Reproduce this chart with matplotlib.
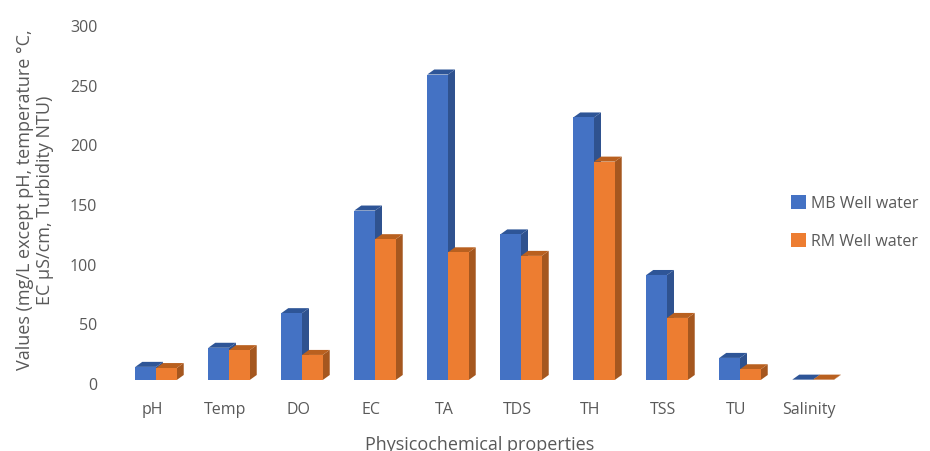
import matplotlib
matplotlib.use("Agg")
import matplotlib.pyplot as plt
from matplotlib.patches import Polygon
from matplotlib.transforms import ScaledTranslation

categories = ["pH", "Temp", "DO", "EC", "TA", "TDS", "TH", "TSS", "TU", "Salinity"]
mb_values = [11, 27, 56, 142, 256, 122, 220, 88, 18.5, 0.3]
rm_values = [10, 25, 21, 118, 107, 104, 183, 52, 9, 0.3]
y_ticks = [0, 50, 100, 150, 200, 250, 300]

TEXT = "#595959"
BLUE = ("#4472C4", "#2F528F", "#2E5597")
ORANGE = ("#ED7D31", "#A5571F", "#B9601F")
BAR_W = 0.284
DEPTH_X = 7 / 73
DEPTH_Y = 4.2

plt.rcParams["font.family"] = ["Open Sans", "DejaVu Sans"]

W, H = 930, 452
fig = plt.figure(figsize=(W / 100, H / 100), dpi=100)
ax = fig.add_axes([119.5 / W, 71 / H, 730 / W, 358 / H])


def draw_series(values, x_shift, colors, label, z):
    xs = [i + x_shift for i in range(len(values))]
    ax.bar(xs, values, width=BAR_W, align="edge", color=colors[0], label=label, zorder=z + 1)
    for x, v in zip(xs, values):
        # right side and top face give each bar its 3D look
        x1 = x + BAR_W
        side = [(x1, 0), (x1 + DEPTH_X, DEPTH_Y), (x1 + DEPTH_X, v + DEPTH_Y), (x1, v)]
        top = [(x, v), (x1, v), (x1 + DEPTH_X, v + DEPTH_Y), (x + DEPTH_X, v + DEPTH_Y)]
        ax.add_patch(Polygon(side, closed=True, facecolor=colors[1], edgecolor="none", zorder=z))
        ax.add_patch(Polygon(top, closed=True, facecolor=colors[2], edgecolor="none", zorder=z))


draw_series(mb_values, -BAR_W, BLUE, "MB Well water", 2)
draw_series(rm_values, 0, ORANGE, "RM Well water", 4)

ax.set_xlim(-0.5, 9.5)
ax.set_ylim(0, 300)
ax.set_xticks(range(len(categories)))
ax.set_xticklabels(categories)
ax.set_yticks(y_ticks)
ax.tick_params(axis="both", length=0, labelsize=11.5, labelcolor=TEXT)
ax.tick_params(axis="x", pad=15)
ax.tick_params(axis="y", pad=16)

# tick labels sit slightly off the bar centres and gridline heights
for lab in ax.get_xticklabels():
    lab.set_transform(lab.get_transform() + ScaledTranslation(-4 / 100, 0, fig.dpi_scale_trans))
for lab in ax.get_yticklabels():
    lab.set_transform(lab.get_transform() + ScaledTranslation(0, -3 / 100, fig.dpi_scale_trans))

for side in ax.spines.values():
    side.set_visible(False)
ax.patch.set_alpha(0)

fig.text(35 / W, 1 - 200 / H,
         "Values (mg/L except pH, temperature \u00b0C,\nEC \u00b5S/cm, Turbidity NTU)",
         rotation=90, ha="center", va="center", multialignment="center",
         fontsize=13, color=TEXT, linespacing=1.2)
fig.text(480 / W, 1 - 445 / H, "Physicochemical properties",
         ha="center", va="center", fontsize=13, color=TEXT)

ax.legend(loc="center left", bbox_to_anchor=(791 / W, 1 - 223 / H),
          bbox_transform=fig.transFigure, frameon=False, fontsize=11.5, labelcolor=TEXT,
          handlelength=0.95, handleheight=0.95, handletextpad=0.3,
          labelspacing=1.35, borderpad=0, borderaxespad=0)

fig.savefig("out.png", dpi=100)
